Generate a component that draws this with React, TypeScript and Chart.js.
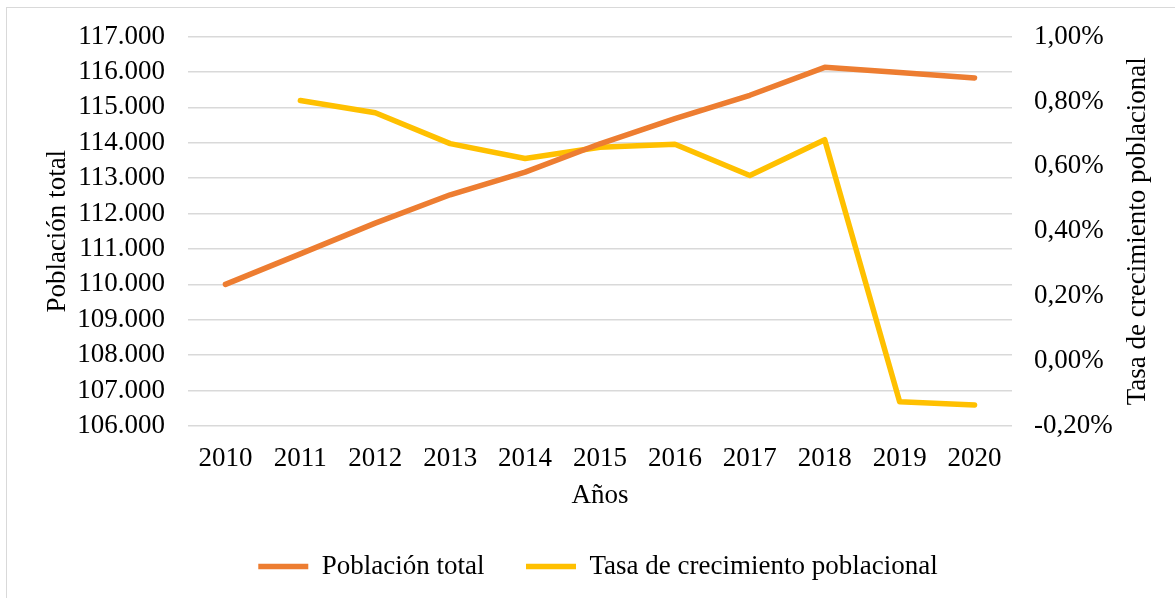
import React, { useEffect, useRef } from "react";
import { Chart, registerables } from "chart.js";

Chart.register(...registerables);

const years = ["2010", "2011", "2012", "2013", "2014", "2015", "2016", "2017", "2018", "2019", "2020"];
const poblacionTotal = [110000, 110860, 111730, 112530, 113170, 113970, 114680, 115340, 116130, 115980, 115830];
const tasaCrecimiento = [null, 0.803, 0.765, 0.670, 0.624, 0.659, 0.668, 0.572, 0.682, -0.125, -0.135];

const leftTitle = "Población total";
const rightTitle = "Tasa de crecimiento poblacional";
const xTitle = "Años";

const FONT = "'Liberation Serif', 'Times New Roman', serif";
const FS = 27;

const fmtThousands = (v: number) =>
  String(Math.round(v)).replace(/\B(?=(\d{3})+(?!\d))/g, ".");
const fmtPct = (v: number) => {
  const n = Math.abs(v) < 1e-9 ? 0 : v;
  return n.toFixed(2).replace(".", ",") + "%";
};

const framePlugin = {
  id: "frameAndRightTitle",
  beforeDraw(chart: any) {
    const ctx = chart.ctx;
    ctx.save();
    ctx.fillStyle = "#ffffff";
    ctx.fillRect(0, 0, chart.width, chart.height);
    ctx.strokeStyle = "#d9d9d9";
    ctx.lineWidth = 1;
    ctx.strokeRect(6.5, 7.5, chart.width + 10, chart.height + 10);
    ctx.restore();
  },
  afterDraw(chart: any) {
    const ctx = chart.ctx;
    const area = chart.chartArea;
    ctx.save();
    ctx.translate(1138, (area.top + area.bottom) / 2);
    ctx.rotate(-Math.PI / 2);
    ctx.font = `${FS}px ${FONT}`;
    ctx.fillStyle = "#000000";
    ctx.textAlign = "center";
    ctx.textBaseline = "middle";
    ctx.fillText(rightTitle, 0, 0);
    ctx.restore();
  },
};

export default function App() {
  const canvasRef = useRef<HTMLCanvasElement | null>(null);

  useEffect(() => {
    if (!canvasRef.current) return;
    const chart = new Chart(canvasRef.current, {
      type: "line",
      data: {
        labels: years,
        datasets: [
          {
            label: leftTitle,
            data: poblacionTotal,
            yAxisID: "y",
            borderColor: "#ED7D31",
            backgroundColor: "#ED7D31",
            borderWidth: 5.5,
            borderCapStyle: "round",
            borderJoinStyle: "round",
            pointRadius: 0,
            pointStyle: "line",
            tension: 0,
          },
          {
            label: rightTitle,
            data: tasaCrecimiento,
            yAxisID: "y1",
            borderColor: "#FFC000",
            backgroundColor: "#FFC000",
            borderWidth: 5.5,
            borderCapStyle: "round",
            borderJoinStyle: "round",
            pointRadius: 0,
            pointStyle: "line",
            tension: 0,
          },
        ],
      },
      options: {
        responsive: false,
        animation: false,
        devicePixelRatio: 1,
        layout: { padding: { left: 21, right: 0, top: 36, bottom: 8 } },
        plugins: {
          tooltip: { enabled: false },
          legend: {
            position: "bottom",
            labels: {
              usePointStyle: true,
              pointStyle: "line",
              pointStyleWidth: 50,
              padding: 41.5,
              color: "#000000",
              font: { family: FONT, size: FS },
            },
          },
        },
        scales: {
          x: {
            offset: true,
            grid: { display: false, drawTicks: false },
            border: { display: false },
            ticks: {
              color: "#000000",
              font: { family: FONT, size: FS },
              padding: 16.3,
              maxRotation: 0,
              autoSkip: false,
            },
            title: {
              display: true,
              text: xTitle,
              color: "#000000",
              font: { family: FONT, size: FS, lineHeight: 1.126 },
              padding: { top: 0, bottom: 0 },
            },
            afterFit: (scale: any) => {
              scale.height = 85.5;
            },
          },
          y: {
            position: "left",
            min: 106000,
            max: 117000,
            grid: { color: "#d9d9d9", lineWidth: 1.5, drawTicks: false },
            border: { display: false },
            ticks: {
              stepSize: 1000,
              autoSkip: false,
              color: "#000000",
              font: { family: FONT, size: FS, lineHeight: 1 },
              padding: 23,
              callback: (v: any) => fmtThousands(Number(v)),
            },
            title: {
              display: true,
              text: leftTitle,
              color: "#000000",
              font: { family: FONT, size: FS },
              padding: { top: 20.8, bottom: 0 },
            },
            afterFit: (scale: any) => {
              scale.width = 167;
            },
          },
          y1: {
            position: "right",
            min: -0.2,
            max: 1.0,
            grid: { display: false, drawTicks: false },
            border: { display: false },
            ticks: {
              stepSize: 0.2,
              autoSkip: false,
              color: "#000000",
              font: { family: FONT, size: FS, lineHeight: 1 },
              padding: 22,
              callback: (v: any) => fmtPct(Number(v)),
            },
            afterFit: (scale: any) => {
              scale.width = 163;
            },
          },
        },
      },
      plugins: [framePlugin],
    } as any);
    return () => chart.destroy();
  }, []);

  return (
    <div style={{ position: "fixed", left: 0, top: 0, width: 1175, height: 598, background: "#fff" }}>
      <canvas ref={canvasRef} width={1175} height={598} style={{ display: "block", width: 1175, height: 598 }} />
    </div>
  );
}
